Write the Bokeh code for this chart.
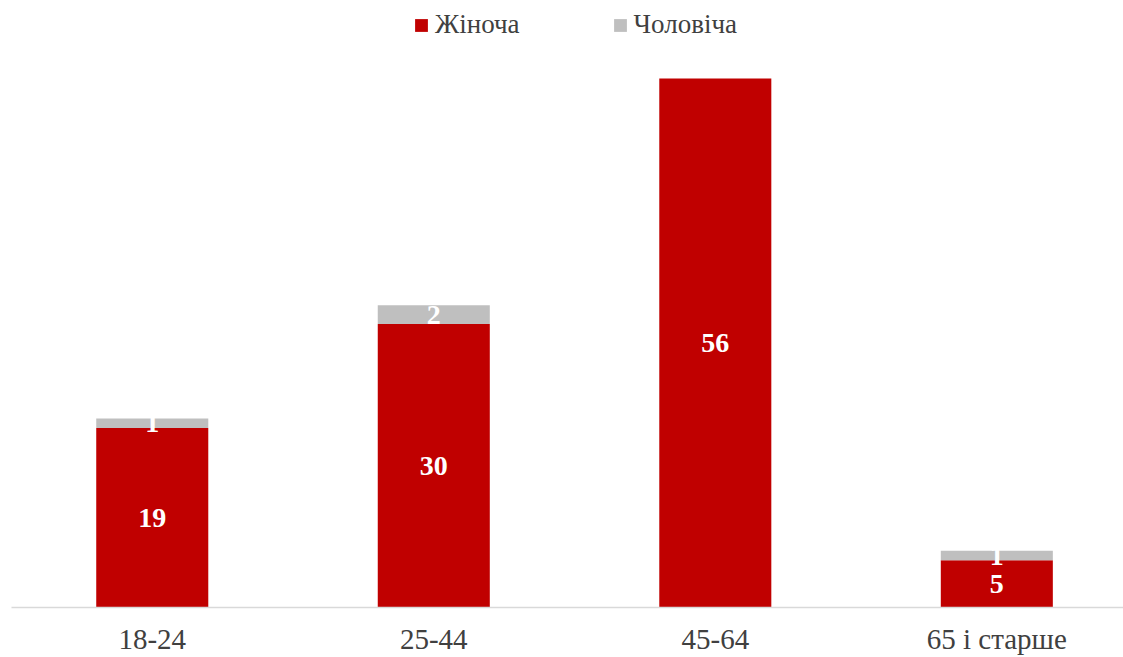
from bokeh.plotting import figure
from bokeh.models import ColumnDataSource, Range1d, FixedTicker, Legend, LegendItem, LabelSet
from bokeh.embed import file_html
from bokeh.resources import INLINE

# ---- data ----
categories = ["18-24", "25-44", "45-64", "65 і старше"]
female = [19, 30, 56, 5]
male = [1, 2, 0, 1]
series_names = ["Жіноча", "Чоловіча"]
colors = ["#C00000", "#BFBFBF"]

FONT = "Liberation Serif"
TEXT_COLOR = "#404040"

xs = [i + 0.5 for i in range(len(categories))]
total = [f + m for f, m in zip(female, male)]

src = ColumnDataSource(dict(
    x=xs,
    female=female,
    male=male,
    total=total,
    zero=[0] * len(xs),
    f_mid=[f / 2 for f in female],
    m_mid=[f + m / 2 for f, m in zip(female, male)],
    f_txt=[str(v) if v else "" for v in female],
    m_txt=[str(v) if v else "" for v in male],
))

p = figure(width=1123, height=657, output_backend="svg", toolbar_location=None,
           x_range=Range1d(0, 3.95), y_range=Range1d(0, 64.26),
           min_border_left=11, min_border_right=0, min_border_top=0, min_border_bottom=50)
p.outline_line_color = None
p.xgrid.visible = False
p.ygrid.visible = False
p.yaxis.visible = False

bw = 0.398
r_f = p.vbar(x="x", bottom="zero", top="female", width=bw, source=src,
             fill_color=colors[0], line_color=None)
r_m = p.vbar(x="x", bottom="female", top="total", width=bw, source=src,
             fill_color=colors[1], line_color=None)

for col_y, col_t in (("f_mid", "f_txt"), ("m_mid", "m_txt")):
    p.add_layout(LabelSet(x="x", y=col_y, text=col_t, source=src,
                          text_align="center", text_baseline="middle",
                          text_color="white", text_font=FONT,
                          text_font_size="28px", text_font_style="bold"))

ax = p.xaxis[0]
ax.ticker = FixedTicker(ticks=xs)
ax.major_label_overrides = {x: c for x, c in zip(xs, categories)}
ax.axis_line_color = "#D9D9D9"
ax.axis_line_width = 1.5
ax.major_tick_line_color = None
ax.minor_tick_line_color = None
ax.major_label_text_font = FONT
ax.major_label_text_font_size = "29px"
ax.major_label_text_color = TEXT_COLOR
ax.major_label_standoff = 9

legend = Legend(items=[LegendItem(label=series_names[0], renderers=[r_f]),
                       LegendItem(label=series_names[1], renderers=[r_m])],
                orientation="horizontal", location=(402, 567),
                glyph_width=16, glyph_height=16, label_standoff=6, spacing=92,
                padding=0, margin=0, border_line_color=None,
                background_fill_alpha=0,
                label_text_font=FONT, label_text_font_size="27px",
                label_text_color=TEXT_COLOR)
p.add_layout(legend)

open("out.html", "w").write(file_html(p, INLINE))
